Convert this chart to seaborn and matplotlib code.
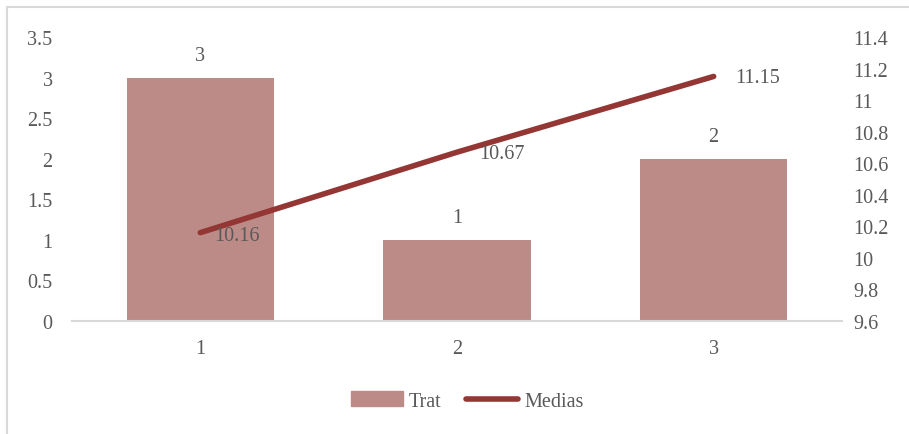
import matplotlib
matplotlib.use("Agg")
import matplotlib.pyplot as plt
import matplotlib.patches as mpatches
from matplotlib.lines import Line2D
import seaborn as sns
import pandas as pd
import numpy as np

categories = ["1", "2", "3"]
trat = [3, 1, 2]
medias = [10.16, 10.67, 11.15]
left_ticks = [0, 0.5, 1, 1.5, 2, 2.5, 3, 3.5]
right_ticks = [9.6, 9.8, 10, 10.2, 10.4, 10.6, 10.8, 11, 11.2, 11.4]

bar_color = "#BD8B87"
line_color = "#943634"
text_color = "#595959"
axis_color = "#D9D9D9"
fs = 14.5

sns.set_theme(style="white")
plt.rcParams['font.family'] = ['Liberation Serif', 'DejaVu Serif']

df = pd.DataFrame({"cat": categories, "Trat": trat, "Medias": medias})

fig = plt.figure(figsize=(9.09, 4.35), dpi=100)
ax = fig.add_axes([72/909, 1-322/435, (842-72)/909, (322-38)/435])

sns.barplot(data=df, x="cat", y="Trat", color=bar_color, width=0.573, ax=ax,
            saturation=1, edgecolor="none")
ax.set_ylim(0, 3.5)
ax.set_yticks(left_ticks)
ax.set_yticklabels([f"{t:g}" for t in left_ticks])
ax.set_xlim(-0.5, 2.5)
ax.set_xlabel("")
ax.set_ylabel("")
for s in ["top", "right", "left"]:
    ax.spines[s].set_visible(False)
ax.spines["bottom"].set_color(axis_color)
ax.spines["bottom"].set_linewidth(1.5)
ax.tick_params(axis="y", length=0, pad=14, labelsize=fs, labelcolor=text_color)
ax.tick_params(axis="x", length=0, pad=13, labelsize=fs, labelcolor=text_color)
for cont in ax.containers:
    ax.bar_label(cont, labels=[f"{v:g}" for v in trat], padding=9,
                 fontsize=fs, color=text_color)

ax2 = ax.twinx()
sns.lineplot(data=df, x="cat", y="Medias", color=line_color, linewidth=4,
             ax=ax2, solid_capstyle="round")
ax2.set_ylim(9.6, 11.4)
ax2.set_yticks(right_ticks)
ax2.set_yticklabels([f"{t:g}" for t in right_ticks])
ax2.set_ylabel("")
ax2.set_xlabel("")
ax2.set_xlim(-0.5, 2.5)
for s in ["top", "right", "left", "bottom"]:
    ax2.spines[s].set_visible(False)
ax2.tick_params(axis="y", length=0, pad=8, labelsize=fs, labelcolor=text_color)
for i, v in enumerate(medias):
    ax2.annotate(f"{v:.2f}", (i, v), xytext=(14 if i == 0 else 22, -3 if i == 0 else -1),
                 textcoords="offset pixels", ha="left", va="center",
                 fontsize=fs, color=text_color)

handles = [mpatches.Patch(color=bar_color, label="Trat"),
           Line2D([0], [0], color=line_color, lw=4, solid_capstyle="round", label="Medias")]
fig.legend(handles=handles, loc="center", bbox_to_anchor=(0.514, 1-402/435), ncol=2,
           frameon=False, fontsize=fs, labelcolor=text_color, handlelength=2.6,
           handletextpad=0.3, columnspacing=1.2)

border = mpatches.Rectangle((7/909, -0.1), 1.2, 1-8/435+0.1, transform=fig.transFigure,
                            fill=False, edgecolor=axis_color, linewidth=1.5, clip_on=False)
fig.patches.append(border)

fig.savefig("out.png", dpi=100)
